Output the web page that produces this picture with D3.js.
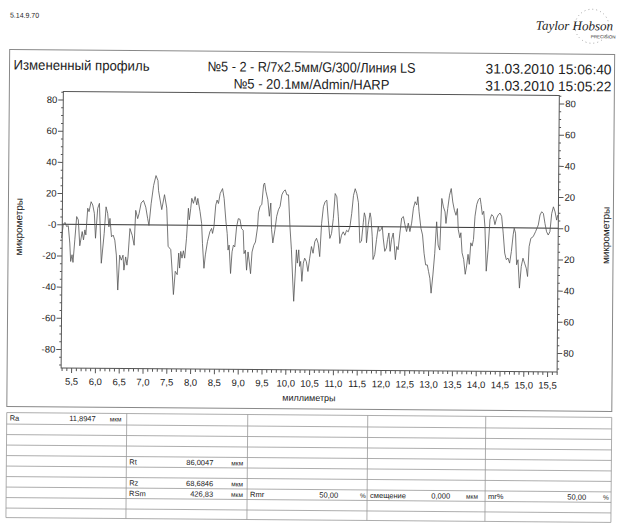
<!DOCTYPE html>
<html>
<head>
<meta charset="utf-8">
<script src="https://cdn.jsdelivr.net/npm/d3@7"></script>
<style>
body { margin: 0; background: #fff; }
svg { display: block; }
text { font-family: "Liberation Sans", Arial, sans-serif; fill: #222; }
</style>
</head>
<body>
<div id="chart"></div>
<script>
// profile trace, position in mm and height in micrometres
const profileMm = [
  5.276, 5.311, 5.346, 5.381, 5.416, 5.451, 5.472, 5.500, 5.521, 5.556, 5.591, 5.626, 5.661, 5.710, 5.738, 5.766, 5.787,
  5.822, 5.850, 5.892, 5.927, 5.962, 5.990, 6.032, 6.067, 6.116, 6.172, 6.207, 6.242, 6.270, 6.291, 6.326, 6.361, 6.396,
  6.431, 6.466, 6.501, 6.536, 6.571, 6.592, 6.627, 6.655, 6.676, 6.712, 6.761, 6.803, 6.831, 6.873, 6.901, 6.943, 6.992,
  7.041, 7.083, 7.111, 7.153, 7.202, 7.251, 7.293,
  7.307, 7.377, 7.433, 7.482, 7.517, 7.573, 7.601, 7.636, 7.671, 7.713, 7.741, 7.762, 7.783, 7.811, 7.839, 7.867, 7.902,
  7.937, 7.958, 7.986, 8.007, 8.042, 8.077, 8.112, 8.133, 8.182, 8.217, 8.238, 8.273, 8.301, 8.343, 8.392, 8.427, 8.448,
  8.476, 8.511, 8.539, 8.567, 8.602, 8.651, 8.686, 8.728, 8.756, 8.777, 8.798, 8.833, 8.861, 8.889, 8.917, 8.952, 8.987,
  9.022, 9.057, 9.092, 9.113, 9.141, 9.169, 9.197, 9.225, 9.253, 9.281, 9.316, 9.351, 9.393,
  9.408, 9.443, 9.478, 9.513, 9.534, 9.562, 9.604, 9.639, 9.667, 9.688, 9.716, 9.758, 9.793, 9.828, 9.863, 9.898, 9.933,
  9.968, 10.003, 10.038, 10.073, 10.108, 10.143, 10.164, 10.192, 10.213, 10.234, 10.262, 10.283, 10.304, 10.332, 10.360,
  10.388, 10.423, 10.458, 10.493, 10.528, 10.563, 10.598, 10.633, 10.668, 10.703, 10.738, 10.773, 10.808, 10.843, 10.878,
  10.913, 10.948, 10.983, 11.018, 11.053, 11.088, 11.123, 11.158, 11.193, 11.228, 11.263, 11.298, 11.333, 11.368, 11.403,
  11.438, 11.473,
  11.508, 11.543, 11.578, 11.613, 11.634, 11.662, 11.684, 11.719, 11.754, 11.775, 11.803, 11.824, 11.859, 11.894, 11.929,
  11.950, 11.985, 12.013, 12.034, 12.069, 12.104, 12.125, 12.153, 12.181, 12.209, 12.244, 12.265, 12.293, 12.321, 12.349,
  12.384, 12.419, 12.454, 12.489, 12.524, 12.559, 12.594, 12.629, 12.664, 12.699, 12.734, 12.755, 12.783, 12.825, 12.860,
  12.895, 12.930, 12.965, 12.993, 13.021, 13.049, 13.084, 13.119, 13.154, 13.189, 13.224, 13.259, 13.294, 13.329, 13.350,
  13.385, 13.420, 13.455, 13.490, 13.525, 13.560, 13.588,
  13.609, 13.644, 13.665, 13.693, 13.728, 13.763, 13.791, 13.819, 13.847, 13.875, 13.903, 13.931, 13.959, 13.994, 14.029,
  14.064, 14.085, 14.113, 14.141, 14.169, 14.204, 14.239, 14.274, 14.309, 14.344, 14.379, 14.414, 14.449, 14.484, 14.519,
  14.554, 14.589, 14.624, 14.659, 14.694, 14.729, 14.764, 14.785, 14.813, 14.841, 14.869, 14.904, 14.939, 14.974, 15.009,
  15.044, 15.073, 15.101, 15.136, 15.185, 15.234, 15.290, 15.325, 15.360, 15.395, 15.430, 15.465, 15.500, 15.535, 15.570,
  15.605, 15.640, 15.675, 15.696
];
const profileUm = [
  -8.8, -0.3, 1.2, -1.4, -0.9, -12.0, -23.8, -19.5, -24.4, -9.9, 5.0, 2.9, -13.7, -4.6, -9.9, -3.5, -6.7,
  10.4, 8.2, 14.6, 12.5, 7.2, -8.8, 10.4, 13.6, -24.8, -5.6, 11.4, 7.2, -1.4, 4.0, -7.8, -6.7, -9.9,
  -19.5, -41.9, -19.5, -22.7, -19.5, -29.1, -20.6, -25.9, -20.6, -2.4, -6.7, -13.1, 9.3, 4.0, 7.2, 14.0, 15.7,
  11.4, 4.0, -0.3, 13.6, 25.3, 31.7, 28.5,
  22.0, 9.9, 19.5, 10.9, -13.6, -15.7, -27.5, -44.5, -29.6, -31.7, -17.9, -27.5, -16.8, -21.1, -16.4, -21.1, -8.3,
  10.9, 3.5, 10.9, 17.3, 14.1, 18.4, 13.1, 17.3, 8.8, 1.3, -11.5, -27.5, -18.9, -10.4, -4.0, -1.9, -5.1,
  -0.8, 13.1, 16.3, 14.1, 20.5, 23.7, 17.3, 2.4, -5.1, -15.7, -12.5, -30.7, -16.8, -12.5, -13.6, -0.8, 4.5,
  4.1, -1.9, -2.9, -17.9, -15.7, -28.5, -16.8, -23.2, -30.7, -16.8, -12.5, -10.4, -0.8,
  8.3, 12.6, 13.6, 26.4, 27.5, 22.2, 16.8, 6.2, 14.7, -2.4, -10.9, -2.4, 6.2, 10.4, 12.6, 20.0, 22.2,
  23.2, 20.0, 20.0, -0.2, -15.2, -36.5, -48.2, -30.1, -15.2, -23.7, -15.2, -25.8, -22.6, -35.4, -23.7,
  -20.5, -22.6, -29.0, -20.5, -13.0, -17.3, -9.8, -7.7, -10.9, -19.4, 1.9, 12.6, 15.8, 16.8, 4.0,
  -7.7, -4.5, 5.1, 21.1, 19.0, 6.2, -10.9, -5.6, -3.4, -5.6, -2.4, -3.4, -0.2, 8.3, 20.0,
  24.3, 21.1,
  15.3, -10.3, -9.3, 2.5, 8.9, 5.7, -10.3, 1.4, 8.9, 5.7, -6.1, -21.0, -17.8, -8.2, 0.3,
  -2.9, -1.8, 0.3, -7.1, -15.7, -13.5, -8.2, -3.9, -15.7, -8.2, -3.9, -10.3, -21.0, -12.5, -14.6,
  -3.9, 5.7, 6.7, 1.4, -2.9, 2.5, -2.9, 2.5, 12.1, 16.3, 14.2, 19.5, 9.9, -0.7, -5.0,
  -16.7, -24.2, -24.2, -28.5, -32.7, -42.3, -30.6, -16.7, 3.5, -11.4, -14.6, 18.5, 13.1, 9.9, 2.5,
  12.1, 20.6, 24.9, 16.3, 11.0, 7.8, 12.1,
  -1.2, -6.6, -3.4, -16.2, -20.4, -30.0, -24.7, -17.2, -23.6, -9.8, -11.9, -7.6, 7.3, 14.8, 18.0,
  19.0, 14.8, 8.4, 10.5, 0.9, -27.9, -14.0, 5.2, 8.4, 7.3, 2.0, 6.2, 8.4, 9.4, 7.3,
  -3.4, -16.2, -20.4, -19.4, -22.6, -15.1, -4.4, -0.2, -3.4, -23.6, -20.4, -38.6, -24.7, -19.4, -22.6,
  -25.8, -31.1, -11.9, -6.6, -5.5, -2.3, 2.0, 8.4, 10.5, 9.4, 3.0, -2.3, -4.4, -2.3, 9.4,
  13.7, 10.5, 5.2, 8.4
];

const yTickValues = [80, 60, 40, 20, 0, -20, -40, -60, -80];
const xTickValues = [5.5, 6.0, 6.5, 7.0, 7.5, 8.0, 8.5, 9.0, 9.5, 10.0, 10.5, 11.0, 11.5, 12.0, 12.5, 13.0, 13.5, 14.0, 14.5, 15.0, 15.5];

const docCode = "5.14.9.70";
const chartTitle = "Измененный профиль";
const runLines = ["№5 - 2 - R/7x2.5мм/G/300/Линия LS", "№5 - 20.1мм/Admin/HARP"];
const runDates = ["31.03.2010 15:06:40", "31.03.2010 15:05:22"];
const yAxisTitle = "микрометры";
const xAxisTitle = "миллиметры";

const paramNames = ["Ra", "Rt", "Rz", "RSm", "Rmr", "смещение", "mr%"];
const paramValues = ["11,8947", "86,0047", "68,6846", "426,83", "50,00", "0,000", "50,00"];
const paramUnits = ["мкм", "мкм", "мкм", "мкм", "%", "мкм", "%"];

const W = 621, H = 526;
const svg = d3.select("#chart").append("svg").attr("width", W).attr("height", H);
// the scanned sheet is slightly turned
const page = svg.append("g").attr("transform", "rotate(0.46,310,260)");

// header
page.append("text").attr("x", 8).attr("y", 20).attr("font-size", 7).text(docCode);

const logo = page.append("g");
logo.append("circle").attr("cx", 590).attr("cy", 24).attr("r", 17)
  .attr("fill", "none").attr("stroke", "#777").attr("stroke-width", 0.8).attr("stroke-dasharray", "0.8,3.2");
logo.append("text").attr("x", 534).attr("y", 28).attr("font-size", 13)
  .style("font-family", "'Liberation Serif', serif").style("font-style", "italic").attr("fill", "#555")
  .text("Taylor Hobson");
logo.append("text").attr("x", 589).attr("y", 36).attr("font-size", 4.5).attr("fill", "#777").text("PRECISION");

// outer frame
page.append("rect").attr("x", 8).attr("y", 52).attr("width", 605).attr("height", 357)
  .attr("fill", "none").attr("stroke", "#888").attr("stroke-width", 1);

page.append("text").attr("x", 12).attr("y", 72).attr("font-size", 14)
  .attr("textLength", 136).attr("lengthAdjust", "spacingAndGlyphs").text(chartTitle);
const runWidths = [208, 156];
page.selectAll(".runline").data(runLines).enter().append("text")
  .attr("x", 310).attr("y", (d, i) => 72 + i * 17).attr("text-anchor", "middle").attr("font-size", 14)
  .attr("textLength", (d, i) => runWidths[i]).attr("lengthAdjust", "spacingAndGlyphs")
  .text(d => d);
page.selectAll(".rundate").data(runDates).enter().append("text")
  .attr("x", 610).attr("y", (d, i) => 72 + i * 17).attr("text-anchor", "end").attr("font-size", 14)
  .attr("textLength", 126).attr("lengthAdjust", "spacingAndGlyphs")
  .text(d => d);

// plot
const plotLeft = 62, plotRight = 558, plotTop = 93.5, plotBottom = 370;
const x = d3.scaleLinear().domain([5.5, 15.5]).range([72, 548]);
const y = d3.scaleLinear().domain([-80, 80]).range([351, 101.5]);

const plot = page.append("g");
plot.append("rect").attr("x", plotLeft).attr("y", plotTop)
  .attr("width", plotRight - plotLeft).attr("height", plotBottom - plotTop)
  .attr("fill", "none").attr("stroke", "#555").attr("stroke-width", 1);

const minorY = d3.range(-90, 86, 5).filter(v => v % 20 !== 0);
const minorX = d3.range(53, 158, 1).map(v => v / 10).filter(v => Math.round(v * 10) % 5 !== 0);

function styleAxis(sel) {
  sel.select(".domain").remove();
  sel.selectAll("line").attr("stroke", "#555");
  sel.selectAll("text").attr("font-size", 9.5).attr("fill", "#222")
    .style("font-family", "'Liberation Sans', Arial, sans-serif");
}

plot.append("g").attr("transform", `translate(${plotLeft},0)`)
  .call(d3.axisLeft(y).tickValues(yTickValues).tickSize(5).tickPadding(1)
    .tickFormat(d => d === 0 ? "-0" : d))
  .call(styleAxis);
plot.append("g").attr("transform", `translate(${plotLeft},0)`)
  .call(d3.axisLeft(y).tickValues(minorY).tickSize(2).tickFormat(""))
  .call(styleAxis);

plot.append("g").attr("transform", `translate(${plotRight},0)`)
  .call(d3.axisRight(y).tickValues(yTickValues).tickSize(5).tickPadding(1)
    .tickFormat(d => Math.abs(d)))
  .call(styleAxis);
plot.append("g").attr("transform", `translate(${plotRight},0)`)
  .call(d3.axisRight(y).tickValues(minorY).tickSize(2).tickFormat(""))
  .call(styleAxis);

plot.append("g").attr("transform", `translate(0,${plotBottom})`)
  .call(d3.axisBottom(x).tickValues(xTickValues).tickSize(5).tickPadding(5)
    .tickFormat(d => d3.format(".1f")(d).replace(".", ",")))
  .call(styleAxis);
plot.append("g").attr("transform", `translate(0,${plotBottom})`)
  .call(d3.axisBottom(x).tickValues(minorX).tickSize(3).tickFormat(""))
  .call(styleAxis);

// zero line
plot.append("line").attr("x1", plotLeft).attr("x2", plotRight).attr("y1", y(0)).attr("y2", y(0))
  .attr("stroke", "#333").attr("stroke-width", 1);

// trace
const profile = profileMm.map((mm, i) => ({ mm: mm, um: profileUm[i] }));
plot.append("path").datum(profile)
  .attr("fill", "none").attr("stroke", "#555").attr("stroke-width", 0.8)
  .attr("d", d3.line().x(d => x(d.mm)).y(d => y(d.um)));

// axis titles
page.append("text").attr("transform", "translate(22,229) rotate(-90)").attr("text-anchor", "middle")
  .attr("font-size", 10).text(yAxisTitle);
page.append("text").attr("transform", "translate(609,233) rotate(-90)").attr("text-anchor", "middle")
  .attr("font-size", 10).text(yAxisTitle);
page.append("text").attr("x", 310).attr("y", 401).attr("text-anchor", "middle")
  .attr("font-size", 9).text(xAxisTitle);

// results table
const cols = [8, 128, 249, 369, 487, 613];
const rows = [415, 426.5, 437, 447.5, 458, 468.5, 479, 489.5, 500, 510.5, 520];
const table = page.append("g");
table.selectAll(".hl").data(rows).enter().append("line")
  .attr("x1", cols[0]).attr("x2", cols[cols.length - 1]).attr("y1", d => d).attr("y2", d => d)
  .attr("stroke", "#999").attr("stroke-width", 0.8);
table.selectAll(".vl").data(cols).enter().append("line")
  .attr("x1", d => d).attr("x2", d => d).attr("y1", rows[0]).attr("y2", rows[rows.length - 1])
  .attr("stroke", "#999").attr("stroke-width", 0.8);

// cell slot per parameter: column, row, value end offset, unit offset
const slots = [[0, 0, 89, 103], [1, 4, 87, 105], [1, 6, 87, 105], [1, 7, 87, 105],
               [2, 7, 91, 113], [3, 7, 83, 99], [4, 7, 101, 118]];
paramNames.forEach((name, i) => {
  const [c, r, vEnd, uOff] = slots[i];
  const by = rows[r] + 8;
  const cx = cols[c];
  table.append("text").attr("x", cx + 3).attr("y", by).attr("font-size", 7.5).text(name);
  table.append("text").attr("x", cx + vEnd).attr("y", by).attr("font-size", 7.5)
    .attr("text-anchor", "end").text(paramValues[i]);
  table.append("text").attr("x", cx + uOff).attr("y", by).attr("font-size", 6.5).text(paramUnits[i]);
});
</script>
</body>
</html>
